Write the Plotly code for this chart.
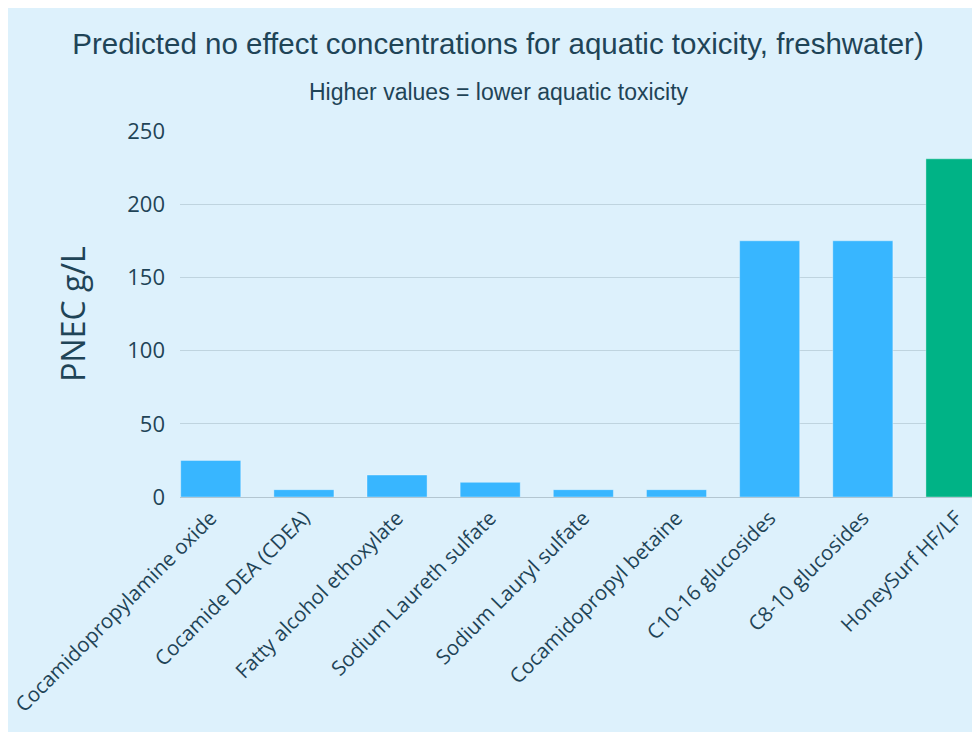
import plotly.graph_objects as go

categories = [
    "Cocamidopropylamine oxide",
    "Cocamide DEA (CDEA)",
    "Fatty alcohol ethoxylate",
    "Sodium Laureth sulfate",
    "Sodium Lauryl sulfate",
    "Cocamidopropyl betaine",
    "C10-16 glucosides",
    "C8-10 glucosides",
    "HoneySurf HF/LF",
]
pnec_values = [25, 5, 15, 10, 5, 5, 175, 175, 231]
bar_colors = ["#38b6ff"] * 8 + ["#00b386"]

y_ticks = [0, 50, 100, 150, 200, 250]

BG = "#ddf1fc"
TXT = "#1f4457"
TICKFONT = "Open Sans, Noto Sans, sans-serif"
W, H = 972, 724

fig = go.Figure(
    go.Bar(
        x=categories,
        y=pnec_values,
        marker=dict(color=bar_colors, line=dict(color="rgba(255,255,255,0.35)", width=1)),
        width=0.645,
    )
)

fig.update_layout(
    width=W,
    height=H,
    margin=dict(l=172, r=0, t=123, b=H - 489),
    paper_bgcolor=BG,
    plot_bgcolor=BG,
    showlegend=False,
    title=dict(
        text="Predicted no effect concentrations for aquatic toxicity, freshwater)",
        font=dict(family="Liberation Sans, Arial, sans-serif", size=29.5, color=TXT),
        x=490 / W, xref="container", xanchor="center",
        y=1 - 36 / H, yref="container", yanchor="middle",
    ),
    annotations=[
        dict(
            text="Higher values = lower aquatic toxicity",
            xref="paper", yref="paper",
            x=0.399, y=1 + 39 / 366,
            xanchor="center", yanchor="middle",
            showarrow=False,
            font=dict(family="Liberation Sans, Arial, sans-serif", size=23, color=TXT),
        )
    ],
    xaxis=dict(
        range=[-0.33, 8.258],
        tickangle=-45,
        tickfont=dict(family=TICKFONT, size=20.5, color=TXT),
        showgrid=False,
        showline=True,
        linecolor="#b3c6d1",
        linewidth=1,
        ticks="",
        automargin=False,
    ),
    yaxis=dict(
        range=[0, 250],
        tickvals=y_ticks,
        tickfont=dict(family=TICKFONT, size=22, color=TXT),
        gridcolor="#bfd4df",
        gridwidth=1,
        zeroline=False,
        ticklabelstandoff=14,
        title=dict(text="PNEC g/L", font=dict(family=TICKFONT, size=32, color=TXT), standoff=32),
        automargin=False,
    ),
)

fig.write_html("out.html")
